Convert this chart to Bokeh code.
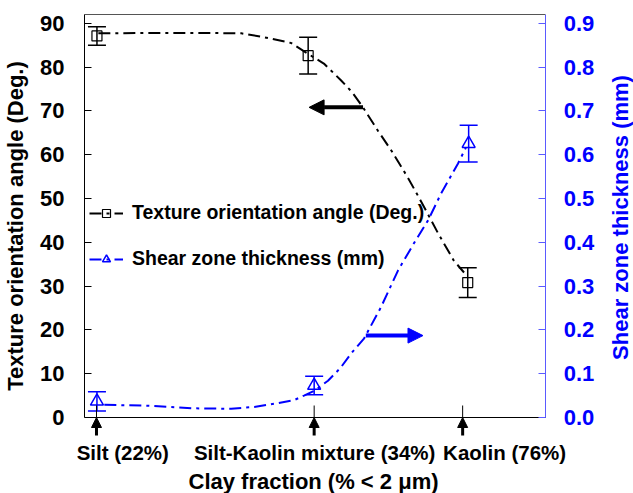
from bokeh.plotting import figure
from bokeh.models import (Range1d, LinearAxis, FixedTicker, Whisker, TeeHead, Arrow, Title, Label,
                          NormalHead, Legend, LegendItem, ColumnDataSource, PrintfTickFormatter)
from bokeh.embed import file_html
from bokeh.resources import INLINE

# ---------------- data ----------------
categories = ["Silt (22%)", "Silt-Kaolin mixture (34%)", "Kaolin (76%)"]
category_x = [0.26, 4.98, 8.20]        # arrow / tick positions of the samples
label_x = [0.83, 4.99, 9.11]           # centres of the category labels

angle_x = [0.27, 4.85, 8.31]
angle = [87.1, 82.6, 30.8]
angle_err = [2.1, 4.2, 3.4]

shear_x = [0.27, 4.98, 8.33]
shear = [0.037, 0.073, 0.625]
shear_err = [0.022, 0.021, 0.042]

angle_fit_x = [0.30, 1.45, 2.53, 3.40, 3.90, 4.48, 4.85, 5.19, 5.56, 5.80, 6.04, 6.36,
               6.65, 7.01, 7.29, 7.66, 8.01, 8.23]
angle_fit_y = [87.7, 87.8, 87.8, 87.7, 86.8, 85.5, 83.0, 80.8, 77.0, 74.3, 70.8, 65.5,
               61.0, 54.8, 49.5, 42.2, 35.8, 33.1]

shear_fit_x = [0.43, 1.39, 2.32, 3.18, 3.68, 4.20, 4.55, 4.76, 5.00, 5.28, 5.55, 5.78,
               6.06, 6.43, 6.80, 7.14, 7.45, 7.73, 8.10, 8.27]
shear_fit_y = [0.029, 0.027, 0.021, 0.020, 0.024, 0.033, 0.040, 0.050, 0.062, 0.084,
               0.113, 0.146, 0.180, 0.252, 0.336, 0.397, 0.450, 0.511, 0.580, 0.616]

angle_arrow_x = [6.04, 4.87]
angle_arrow_y = 70.8
shear_arrow_x = [6.10, 7.34]
shear_arrow_y = 0.187

left_ticks = [0, 10, 20, 30, 40, 50, 60, 70, 80, 90]
right_ticks = [0.0, 0.1, 0.2, 0.3, 0.4, 0.5, 0.6, 0.7, 0.8, 0.9]

x_title = "Clay fraction (% < 2 \u03bcm)"
left_title = "Texture orientation angle (Deg.)"
right_title = "Shear zone thickness (mm)"

# ---------------- figure ----------------
FONT = "Liberation Sans"
BLUE = "#0000ff"
X_MAX = 10
Y_MAX = 92
ppx = 462 / X_MAX              # pixels per x unit (axis area 83..545)
ppu = 403 / Y_MAX              # pixels per degree
Y_MIN = -20 / ppu              # room below the axis for the sample arrows
X_END = X_MAX + 88 / ppx       # frame runs to the right edge; right axis is fixed at X_MAX

p = figure(width=633, height=493, x_range=Range1d(0, X_END), y_range=Range1d(Y_MIN, Y_MAX),
           output_backend="svg", toolbar_location=None,
           min_border_left=83, min_border_right=0, min_border_top=14, min_border_bottom=56)
p.extra_y_ranges = {"shear": Range1d(Y_MIN / 100, Y_MAX / 100)}
p.grid.visible = False
p.outline_line_color = None
p.background_fill_color = "white"
p.border_fill_color = "white"

# left axis
ya = p.left[0]
ya.bounds = (0, Y_MAX)
ya.ticker = FixedTicker(ticks=left_ticks)
ya.major_tick_in = 7
ya.major_tick_out = 0
ya.minor_tick_line_color = None
ya.major_label_standoff = 20
ya.major_label_text_font = FONT
ya.major_label_text_font_style = "bold"
ya.major_label_text_font_size = "22px"
ya.major_label_text_color = "black"
ya.axis_label = left_title
ya.axis_label_text_font = FONT
ya.axis_label_text_font_style = "bold"
ya.axis_label_text_font_size = "22px"
ya.axis_label_text_color = "black"
ya.axis_label_standoff = 9
ya.axis_line_color = "black"

# bottom axis (labels only; axis line drawn at y = 0)
xa = p.below[0]
xa.ticker = FixedTicker(ticks=label_x)
xa.major_label_overrides = {lx: c for lx, c in zip(label_x, categories)}
xa.axis_line_color = None
xa.major_tick_line_color = None
xa.major_tick_in = 0
xa.major_tick_out = 0
xa.minor_tick_line_color = None
xa.major_label_standoff = 3
xa.major_label_text_font = FONT
xa.major_label_text_font_style = "bold"
xa.major_label_text_font_size = "20.5px"
xa.major_label_text_color = "black"
p.add_layout(Title(text=x_title, align="left", offset=104, standoff=0,
                   text_font=FONT, text_font_style="bold", text_font_size="22px",
                   text_color="black"), "below")
p.segment(x0=[0], y0=[0], x1=[X_MAX], y1=[0], line_color="black", line_width=1)

# right axis, fixed at the end of the data area
yr = LinearAxis(y_range_name="shear", ticker=FixedTicker(ticks=right_ticks),
                formatter=PrintfTickFormatter(format="%.1f"), bounds=(0, Y_MAX / 100),
                fixed_location=X_MAX)
yr.major_tick_in = 7
yr.major_tick_out = 0
yr.minor_tick_line_color = None
yr.axis_line_color = "#5a5aff"
yr.major_tick_line_color = "#5a5aff"
yr.major_label_standoff = 18
yr.major_label_text_font = FONT
yr.major_label_text_font_style = "bold"
yr.major_label_text_font_size = "22px"
yr.major_label_text_color = BLUE
p.add_layout(yr, "right")
p.add_layout(Label(x=X_MAX + 75 / ppx, y=(417 - 217) / ppu, text=right_title, angle=90,
                   angle_units="deg", text_align="center", text_baseline="middle",
                   text_font=FONT, text_font_style="bold", text_font_size="22px",
                   text_color=BLUE))

# top frame line
top = LinearAxis(ticker=FixedTicker(ticks=[]), axis_line_color="#555555", bounds=(0, X_MAX),
                 major_tick_line_color=None, minor_tick_line_color=None,
                 major_label_text_font_size="0px")
p.add_layout(top, "above")

# fitted curves
DASH = "12 5 3 5"
line_a = p.line(angle_fit_x, angle_fit_y, line_color="black", line_width=2, line_dash=DASH)
line_s = p.line(shear_fit_x, shear_fit_y, line_color=BLUE, line_width=2, line_dash=DASH,
                y_range_name="shear")

# error bars
src_a = ColumnDataSource(dict(x=angle_x,
                              lower=[v - e for v, e in zip(angle, angle_err)],
                              upper=[v + e for v, e in zip(angle, angle_err)]))
p.add_layout(Whisker(source=src_a, base="x", lower="lower", upper="upper", dimension="height",
                     line_color="black", line_width=1.5,
                     upper_head=TeeHead(size=18, line_color="black", line_width=1.5),
                     lower_head=TeeHead(size=18, line_color="black", line_width=1.5)))
src_s = ColumnDataSource(dict(x=shear_x,
                              lower=[v - e for v, e in zip(shear, shear_err)],
                              upper=[v + e for v, e in zip(shear, shear_err)]))
p.add_layout(Whisker(source=src_s, base="x", lower="lower", upper="upper", dimension="height",
                     y_range_name="shear", line_color=BLUE, line_width=1.5,
                     upper_head=TeeHead(size=18, line_color=BLUE, line_width=1.5),
                     lower_head=TeeHead(size=18, line_color=BLUE, line_width=1.5)))

# markers
sc_a = p.scatter(angle_x, angle, marker="square", size=10, fill_color=None,
                 line_color="black", line_width=1.2)
sc_s = p.scatter(shear_x, shear, marker="triangle", size=13, fill_color=None,
                 line_color=BLUE, line_width=1.5, y_range_name="shear")

# direction arrows
p.add_layout(Arrow(x_start=angle_arrow_x[0], y_start=angle_arrow_y,
                   x_end=angle_arrow_x[1], y_end=angle_arrow_y,
                   line_color="black", line_width=4,
                   end=NormalHead(size=15, fill_color="black", line_color="black")))
p.add_layout(Arrow(x_start=shear_arrow_x[0], y_start=shear_arrow_y,
                   x_end=shear_arrow_x[1], y_end=shear_arrow_y, y_range_name="shear",
                   line_color=BLUE, line_width=4,
                   end=NormalHead(size=15, fill_color=BLUE, line_color=BLUE)))

# sample markers: thin inner tick + arrow below the axis
for cx in category_x:
    p.add_layout(Arrow(x_start=cx, y_start=0, x_end=cx, y_end=12 / ppu, end=None,
                       line_color="black", line_width=1))
    p.add_layout(Arrow(x_start=cx, y_start=-18 / ppu, x_end=cx, y_end=0,
                       line_color="black", line_width=3,
                       end=NormalHead(size=10, fill_color="black", line_color="black")))

# legend
legend = Legend(items=[LegendItem(label="Texture orientation angle (Deg.)", renderers=[line_a, sc_a]),
                       LegendItem(label="Shear zone thickness (mm)", renderers=[line_s, sc_s])],
                location=(5, 167), border_line_color=None, background_fill_alpha=0,
                padding=0, margin=0, spacing=23, label_height=20, glyph_height=20,
                glyph_width=34, label_standoff=9, label_text_font=FONT,
                label_text_font_style="bold", label_text_font_size="19.5px",
                label_text_color="black")
p.add_layout(legend)

open("out.html", "w").write(file_html(p, INLINE))
